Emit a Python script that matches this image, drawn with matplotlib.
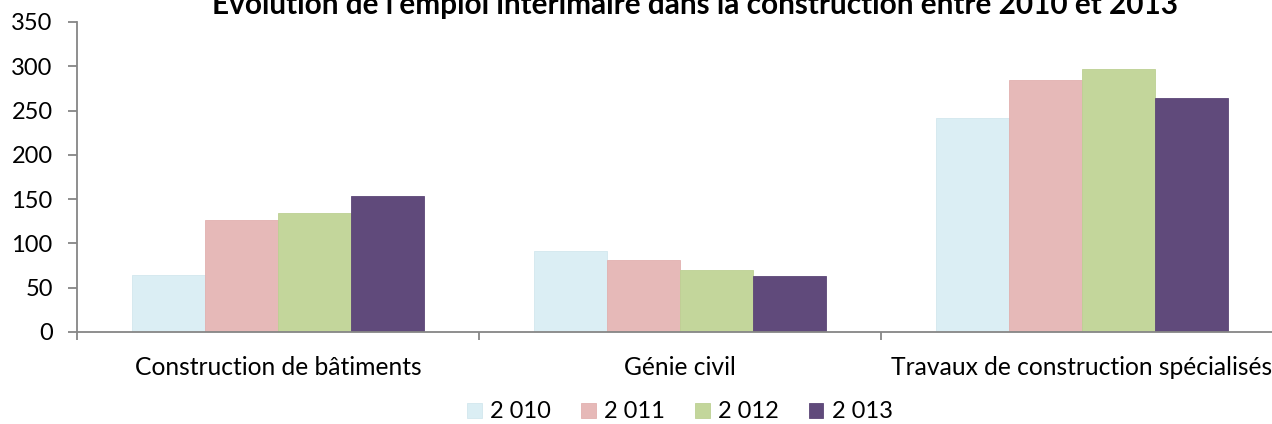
import matplotlib
matplotlib.use("Agg")
import matplotlib.pyplot as plt
import numpy as np

categories = ["Construction de bâtiments", "Génie civil", "Travaux de construction spécialisés"]
series_labels = ["2 010", "2 011", "2 012", "2 013"]
values_2010 = [64, 91, 242]
values_2011 = [126, 81, 284]
values_2012 = [134, 70, 297]
values_2013 = [153, 63, 264]
yticks = [0, 50, 100, 150, 200, 250, 300, 350]
title = "Evolution de l'emploi intérimaire dans la construction entre 2010 et 2013"

colors = ["#DBEEF4", "#E6B9B8", "#C3D69B", "#604A7B"]
edges = ["#D2E7EE", "#E2B0AF", "#BDD093", "#5C4677"]
series = [values_2010, values_2011, values_2012, values_2013]

plt.rcParams['font.family'] = ['Lato', 'DejaVu Sans']
W, H = 1272, 424
fig = plt.figure(figsize=(W / 100, H / 100), dpi=100)
ax = fig.add_axes([77 / W, (H - 332) / H, 1206 / W, 310 / H])

x = np.arange(len(categories))
bw = 0.181
for i, (vals, c, e) in enumerate(zip(series, colors, edges)):
    ax.bar(x + (i - 1.5) * bw, vals, width=bw, color=c, edgecolor=e, linewidth=0.6,
           label=series_labels[i], zorder=2)

ax.set_xlim(-0.5, len(categories) - 0.5)
ax.set_ylim(0, 350)
ax.set_yticks(yticks)
ax.set_yticklabels([str(v) for v in yticks], fontsize=17)

axis_col = "#868686"
for s in ["top", "right"]:
    ax.spines[s].set_visible(False)
ax.spines["left"].set_color(axis_col)
ax.spines["bottom"].set_color(axis_col)
ax.spines["left"].set_linewidth(1.3)
ax.spines["bottom"].set_linewidth(1.3)
ax.tick_params(axis="y", colors=axis_col, labelcolor="black", length=6.5, width=1.3, pad=11)

# category labels (minor) and boundary ticks (major)
ax.set_xticks(np.arange(-0.5, len(categories) + 0.5, 1.0))
ax.set_xticklabels([])
ax.tick_params(axis="x", which="major", colors=axis_col, length=6, width=1.3)
ax.set_xticks(x, minor=True)
ax.set_xticklabels(categories, minor=True, fontsize=17.7)
ax.tick_params(axis="x", which="minor", length=0, pad=17, labelcolor="black")

fig.text(0.546, 1 - 14 / H, title, ha="center", va="baseline", fontsize=21.4,
         fontweight="bold")

leg = fig.legend(loc="center", bbox_to_anchor=(680 / W, (H - 412) / H), ncol=4,
                 frameon=False, fontsize=17, handlelength=0.6, handleheight=0.6,
                 handletextpad=0.35, columnspacing=1.3, borderpad=0.2)

fig.savefig("out.png", dpi=100)
